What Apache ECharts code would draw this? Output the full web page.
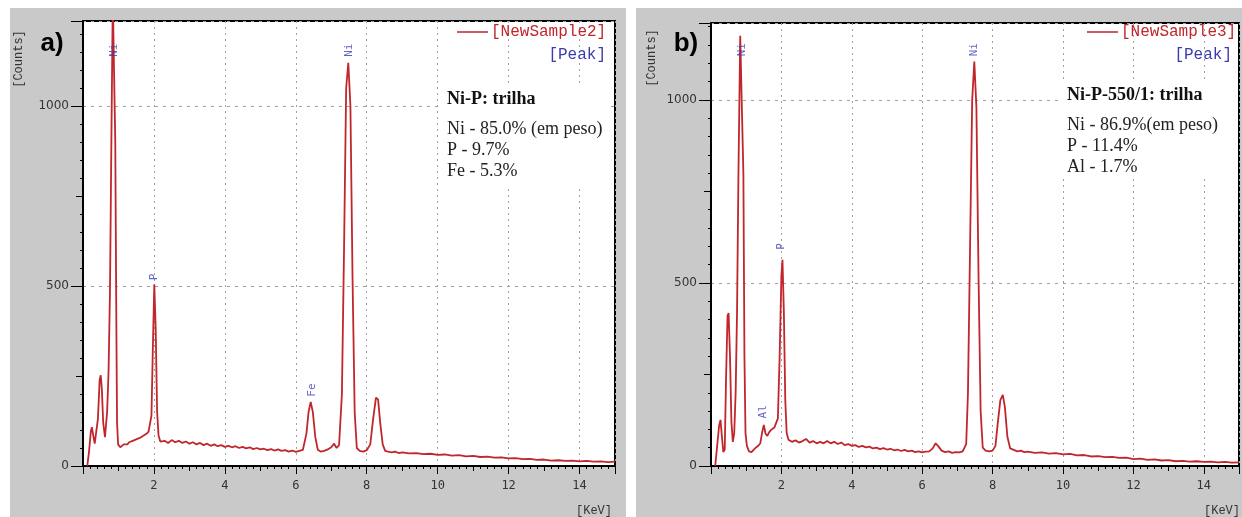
<!DOCTYPE html>
<html>
<head>
<meta charset="utf-8">
<script src="https://cdn.jsdelivr.net/npm/echarts@6/dist/echarts.min.js"></script>
<style>
html,body{margin:0;padding:0;background:#fff;}
#main{width:1242px;height:517px;}
</style>
</head>
<body>
<div id="main"></div>
<script>
var myChart = echarts.init(document.getElementById('main'));

// spectrum a) Ni-P : energy (keV) / counts
var energyA = [0.12,0.17,0.22,0.25,0.28,0.33,0.37,0.42,0.47,0.5,0.53,0.57,0.62,0.68,0.72,0.76,0.8,0.84,0.88,0.91,0.94,0.96,0.99,
  1.05,1.1,1.15,1.2,1.25,1.3,1.35,1.4,1.45,1.5,1.55,1.6,1.65,1.7,1.75,1.8,1.85,1.88,1.93,1.97,2.01,2.05,2.09,2.13,2.18,
  2.2,2.3,2.4,2.5,2.6,2.7,2.8,2.9,3.0,3.1,3.2,3.3,3.4,3.5,3.6,3.7,3.8,3.9,4.0,4.1,4.2,4.3,4.4,4.5,4.6,4.7,4.8,4.9,
  5.0,5.1,5.2,5.3,5.4,5.5,5.6,5.7,5.8,5.9,6.0,6.1,6.2,6.3,6.36,6.42,6.48,6.55,6.62,6.7,6.8,6.9,7.0,7.08,7.15,7.22,
  7.3,7.36,7.42,7.48,7.54,7.6,7.66,7.72,7.8,7.9,8.0,8.1,8.18,8.26,8.32,8.38,8.45,8.52,8.6,8.7,8.8,8.9,9.0,9.2,9.4,
  9.6,9.8,10.0,10.2,10.4,10.6,10.8,11.0,11.2,11.4,11.6,11.8,12.0,12.2,12.4,12.6,12.8,13.0,13.2,13.4,13.6,13.8,14.0,
  14.2,14.4,14.6,14.8,15.0];
var countsA = [0,40,95,108,90,62,60,130,240,252,215,120,80,150,260,480,900,1300,1300,900,400,120,60,
  52,55,60,62,60,66,64,70,68,74,72,78,80,84,82,90,96,100,140,330,505,380,150,85,68,
  66,70,64,72,66,70,64,68,62,66,60,64,58,62,56,60,55,58,53,56,52,55,50,53,49,52,47,50,
  46,48,44,47,43,46,42,44,40,43,39,42,45,90,150,178,150,80,45,40,42,46,52,62,50,58,
  200,600,1050,1120,1000,520,150,50,42,40,44,60,130,190,185,120,60,42,40,38,40,36,38,35,36,
  33,34,31,32,29,30,27,28,25,26,23,24,21,22,19,20,17,18,15,16,14,15,13,
  14,12,13,11,12];

// spectrum b) Ni-P-550/1
var energyB = [0.12,0.18,0.23,0.27,0.31,0.35,0.39,0.43,0.47,0.5,0.54,0.58,0.62,0.66,0.7,0.74,0.78,0.83,0.88,0.92,0.95,0.98,
  1.02,1.08,1.15,1.2,1.25,1.3,1.35,1.4,1.45,1.5,1.55,1.6,1.65,1.7,1.75,1.8,1.85,1.9,1.95,2.0,2.03,2.07,2.11,2.15,2.2,
  2.3,2.4,2.5,2.6,2.7,2.8,2.9,3.0,3.1,3.2,3.3,3.4,3.5,3.6,3.7,3.8,3.9,4.0,4.1,4.2,4.3,4.4,4.5,4.6,4.7,4.8,4.9,
  5.0,5.1,5.2,5.3,5.4,5.5,5.6,5.7,5.8,5.9,6.0,6.1,6.2,6.3,6.38,6.45,6.55,6.65,6.75,6.85,6.95,7.05,7.15,7.25,
  7.3,7.36,7.42,7.48,7.54,7.6,7.66,7.72,7.8,7.9,8.0,8.08,8.15,8.22,8.29,8.35,8.42,8.5,8.6,8.7,8.8,8.9,9.0,9.2,9.4,
  9.6,9.8,10.0,10.2,10.4,10.6,10.8,11.0,11.2,11.4,11.6,11.8,12.0,12.2,12.4,12.6,12.8,13.0,13.2,13.4,13.6,13.8,14.0,
  14.2,14.4,14.6,14.8,15.0];
var countsB = [0,60,110,126,80,38,45,250,410,418,300,120,66,90,200,420,800,1175,1175,800,300,90,
  55,40,38,42,48,52,56,62,90,112,88,82,92,98,95,105,110,130,300,520,563,420,180,90,72,
  66,70,64,68,74,64,68,62,66,62,68,62,66,60,64,57,60,55,57,52,55,51,53,48,50,46,49,
  45,47,43,45,41,44,40,42,38,40,37,39,40,48,62,55,42,38,40,36,38,37,40,60,
  200,600,1000,1105,980,520,150,50,42,40,42,55,120,180,194,160,80,48,44,40,42,38,39,36,37,
  34,35,32,33,29,30,26,27,24,25,22,23,19,20,17,18,15,16,13,14,12,13,11,
  12,10,11,9,10];

// peak markers (element, keV, counts where the label sits)
var peakNamesA = ['Ni','P','Fe','Ni'];
var peakKeVA = [0.87,2.0,6.46,7.5];
var peakPosA = [1155,525,211,1155];
var peakNamesB = ['Ni','Al','P','Ni'];
var peakKeVB = [0.88,1.49,2.0,7.48];
var peakPosB = [1137,148,600,1137];

var tickKeV = [2,4,6,8,10,12,14];

function zip(xs, ys){
  var out = [];
  for (var i = 0; i < xs.length; i++) out.push([xs[i], ys[i]]);
  return out;
}
function peaks(names, xs, ys){
  var out = [];
  for (var i = 0; i < names.length; i++) out.push({name: names[i], value: [xs[i], ys[i]]});
  return out;
}

var red = '#c0262c';
var blue = '#3b3bb0';

function mainX(g){
  return {
    type:'value', gridIndex:g, min:0, max:15, interval:2, position:'bottom',
    axisLine:{lineStyle:{color:'#000',width:2}},
    axisTick:{length:8,lineStyle:{color:'#000'}},
    minorTick:{show:true,splitNumber:10,length:3,lineStyle:{color:'#000'}},
    axisLabel:{margin:14,fontFamily:'DejaVu Sans Mono',fontSize:12,color:'#333',
      formatter:function(v){ return tickKeV.indexOf(v) >= 0 ? v : ''; }},
    splitLine:{show:true,lineStyle:{color:'#a0a0a0',type:[2,4],width:1}}
  };
}
function subX(g){
  return {
    type:'value', gridIndex:g, min:0, max:15, interval:1, position:'bottom',
    axisLine:{show:false}, axisTick:{length:5,lineStyle:{color:'#000'}},
    axisLabel:{show:false}, splitLine:{show:false}
  };
}
function mainY(g, ymax){
  return {
    type:'value', gridIndex:g, min:0, max:ymax, interval:500, position:'left',
    axisLine:{show:true,lineStyle:{color:'#000',width:2}},
    axisTick:{show:true,length:12,lineStyle:{color:'#000'}},
    minorTick:{show:true,splitNumber:10,length:3,lineStyle:{color:'#000'}},
    axisLabel:{margin:14,fontFamily:'DejaVu Sans',fontSize:12,color:'#333',
      formatter:function(v){ return v % 500 === 0 ? v : ''; }},
    splitLine:{show:true,lineStyle:{color:'#a0a0a0',type:[3,5],width:1}}
  };
}
function subY(g, ymax){
  return {
    type:'value', gridIndex:g, min:0, max:ymax, interval:250, position:'left',
    axisLine:{show:false}, axisTick:{show:true,length:7,lineStyle:{color:'#000'}},
    axisLabel:{show:false}, splitLine:{show:false}
  };
}

function spectrum(name, data, g){
  return {
    name:name, type:'line', xAxisIndex:g*2, yAxisIndex:g*2, data:data,
    showSymbol:false, symbol:'none', clip:true, sampling:false,
    lineStyle:{color:red,width:1.8}, z:3
  };
}
function peakLabels(data, g){
  return {
    name:'[Peak]', type:'scatter', xAxisIndex:g*2, yAxisIndex:g*2, data:data,
    symbolSize:0, z:5,
    label:{show:true,position:'inside',rotate:90,formatter:'{b}',
      fontFamily:'DejaVu Sans Mono',fontSize:11,color:blue}
  };
}

function panelText(x, y, title, lines, boxW, boxH){
  var els = [{type:'rect',shape:{x:x-5,y:y-14,width:boxW,height:boxH},style:{fill:'#fff'},z:10}];
  els.push({type:'text',x:x,y:y,z:11,style:{text:title,font:'bold 18px "Liberation Serif"',fill:'#111',verticalAlign:'middle'}});
  for (var i = 0; i < lines.length; i++) {
    els.push({type:'text',x:x,y:y+30+i*21,z:11,style:{text:lines[i],font:'18px "Liberation Serif"',fill:'#222',verticalAlign:'middle'}});
  }
  return els;
}
function legendText(xLine, sample, xRight){
  return [
    {type:'line',shape:{x1:xLine,y1:32,x2:xLine+31,y2:32},style:{stroke:red,lineWidth:1.5},z:11},
    {type:'text',x:xLine+34,y:32,z:11,style:{text:sample,font:'16px "Liberation Mono"',fill:red,verticalAlign:'middle'}},
    {type:'text',x:xRight,y:55,z:11,style:{text:'[Peak]',font:'16px "Liberation Mono"',fill:blue,align:'right',verticalAlign:'middle'}}
  ];
}

var graphics = [
  {type:'rect',shape:{x:0,y:0,width:1242,height:8},style:{fill:'#fff'},z:-1},
  {type:'rect',shape:{x:0,y:0,width:10,height:517},style:{fill:'#fff'},z:-1},
  {type:'rect',shape:{x:626,y:0,width:10,height:517},style:{fill:'#fff'},z:-1},
  {type:'text',x:52,y:44,z:11,style:{text:'a)',font:'bold 26px "Liberation Sans"',fill:'#000',align:'center',verticalAlign:'middle'}},
  {type:'text',x:686,y:44,z:11,style:{text:'b)',font:'bold 26px "Liberation Sans"',fill:'#000',align:'center',verticalAlign:'middle'}},
  {type:'text',x:19,y:59,rotation:Math.PI/2,z:11,style:{text:'[Counts]',font:'12px "Liberation Mono"',fill:'#333',align:'center',verticalAlign:'middle'}},
  {type:'text',x:652,y:58,rotation:Math.PI/2,z:11,style:{text:'[Counts]',font:'12px "Liberation Mono"',fill:'#333',align:'center',verticalAlign:'middle'}},
  {type:'text',x:612,y:511,z:11,style:{text:'[KeV]',font:'12px "Liberation Mono"',fill:'#333',align:'right',verticalAlign:'middle'}},
  {type:'text',x:1240,y:511,z:11,style:{text:'[KeV]',font:'12px "Liberation Mono"',fill:'#333',align:'right',verticalAlign:'middle'}}
];
graphics = graphics
  .concat(legendText(457,'[NewSample2]',606))
  .concat(legendText(1087,'[NewSample3]',1232))
  .concat(panelText(447,99,'Ni-P: trilha',['Ni - 85.0% (em peso)','P - 9.7%','Fe - 5.3%'],168,100))
  .concat(panelText(1067,95,'Ni-P-550/1: trilha',['Ni - 86.9%(em peso)','P - 11.4%','Al - 1.7%'],174,96));

var option = {
  backgroundColor:'#c9c9c9',
  animation:false,
  grid:[
    {left:83,top:21,width:532,height:445,show:true,backgroundColor:'#fff',borderColor:'#000',borderWidth:2},
    {left:711,top:23,width:536,height:443,show:true,backgroundColor:'#fff',borderColor:'#000',borderWidth:2}
  ],
  xAxis:[mainX(0),subX(0),mainX(1),subX(1)],
  yAxis:[mainY(0,1236),subY(0,1236),mainY(1,1210),subY(1,1210)],
  series:[
    spectrum('[NewSample2]',zip(energyA,countsA),0),
    peakLabels(peaks(peakNamesA,peakKeVA,peakPosA),0),
    spectrum('[NewSample3]',zip(energyB,countsB),1),
    peakLabels(peaks(peakNamesB,peakKeVB,peakPosB),1)
  ],
  graphic:{elements:graphics}
};
myChart.setOption(option);
</script>
</body>
</html>
